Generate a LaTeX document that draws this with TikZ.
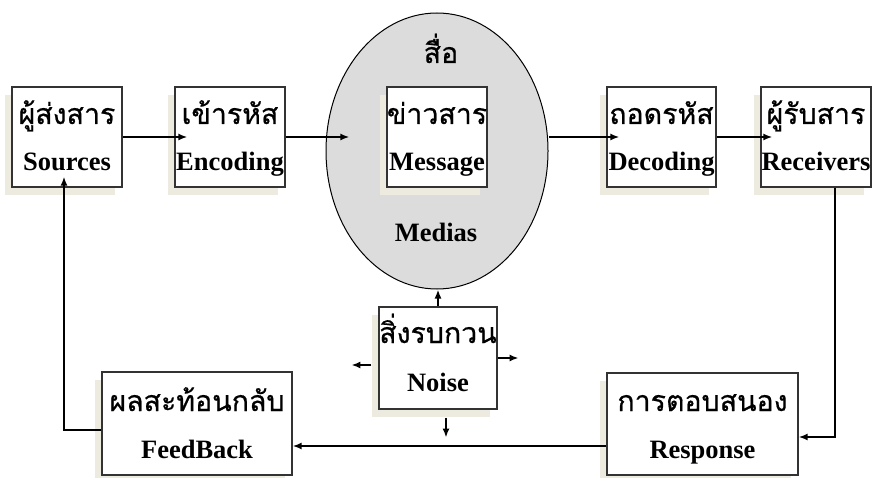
\documentclass[tikz,border=0pt]{standalone}
\usepackage{fontspec}
\setmainfont{Liberation Serif}
\newfontfamily\thaifont[Script=Thai,FakeBold=0.6]{Loma}
\usetikzlibrary{shadows,arrows.meta,shapes.geometric}

\definecolor{shadowc}{HTML}{EDEADF}
\definecolor{mediagray}{HTML}{DCDCDC}
\definecolor{boxline}{HTML}{333333}

\begin{document}
\begin{tikzpicture}[x=1pt,y=-1pt,
  box/.style={draw=boxline, line width=1.2pt, fill=white, rectangle, inner sep=0pt,
    general shadow={fill=shadowc, shadow xshift=-7pt, shadow yshift=-8pt}},
  th/.style={font=\thaifont\fontsize{28.5}{28.5}\selectfont, anchor=base, inner sep=0pt},
  en/.style={font=\fontsize{26.5}{26.5}\selectfont\bfseries, anchor=base, inner sep=0pt},
  arr/.style={line width=2.4pt, -{Latex[length=9pt,width=7pt]}},
]
\fill[white] (0,0) rectangle (874,478);
\path[use as bounding box] (0,0) rectangle (874,478);

% media ellipse
\node[ellipse, draw=black, line width=1pt, fill=mediagray, minimum width=222pt, minimum height=276pt, inner sep=0pt] (med) at (437,151) {};

% boxes
\node[box, minimum width=110pt, minimum height=100pt] (src) at (67,137) {};
\node[box, minimum width=110pt, minimum height=100pt] (enc) at (230,137) {};
\node[box, minimum width=100pt, minimum height=100pt] (msg) at (437,137) {};
\node[box, minimum width=109pt, minimum height=100pt] (dec) at (661.5,137) {};
\node[box, minimum width=110pt, minimum height=100pt] (rec) at (816,137) {};
\node[box, minimum width=118pt, minimum height=102pt] (noise) at (438,358) {};
\node[box, minimum width=190pt, minimum height=103pt] (fb) at (197,423.5) {};
\node[box, minimum width=191pt, minimum height=102pt] (resp) at (702.5,424) {};

% texts
\node[th] (srcT) at (67,124) {ผู้ส่งสาร};
\node[en] (srcE) at (67,171) {Sources};
\node[th] (encT) at (230,124) {เข้ารหัส};
\node[en] (encE) at (230,171) {Encoding};
\node[th] (msgT) at (437,124) {ข่าวสาร};
\node[en] (msgE) at (437,171) {Message};
\node[th] (decT) at (661.5,124) {ถอดรหัส};
\node[en] (decE) at (661.5,171) {Decoding};
\node[th] (recT) at (816,124) {ผู้รับสาร};
\node[en] (recE) at (816,171) {Receivers};
\node[th] (medT) at (441,63) {สื่อ};
\node[en] (medE) at (436,241) {Medias};
\node[th] (noiseT) at (438,343) {สิ่งรบกวน};
\node[en] (noiseE) at (438,391) {Noise};
\node[th] (fbT) at (197,411) {ผลสะท้อนกลับ};
\node[en] (fbE) at (197,458) {FeedBack};
\node[th] (respT) at (702.5,411) {การตอบสนอง};
\node[en] (respE) at (702.5,458) {Response};

% connectors
\draw[arr] (src.east) -- ([xshift=13pt]enc.west);
\draw[arr] (enc.east) -- ([xshift=-37pt]msg.west);
\draw[arr] (msg.east -| med.east) -- ([xshift=13pt]dec.west);
\draw[arr] (dec.east) -- ([xshift=12pt]rec.west);
\draw[arr] ([xshift=19pt]rec.south) |- ([yshift=-13pt]resp.east);
\coordinate (rl) at ([yshift=-22pt]resp.west);
\draw[arr] (rl) -- (rl -| fb.east);
\draw[arr] ([yshift=-6.5pt]fb.west) -| ([xshift=-3pt,yshift=11pt]src.south);

% noise arrows
\draw[arr] (noise.north) -- (noise.north |- med.south);
\coordinate (nL1) at ([xshift=-7pt,yshift=-7pt]noise.west);
\coordinate (nL2) at ([xshift=-27pt,yshift=-7pt]noise.west);
\draw[arr] (nL1) -- (nL2);
\coordinate (nR) at ([xshift=21pt]noise.east);
\draw[arr] (noise.east) -- (nR);
\coordinate (nD1) at ([xshift=8pt,yshift=-8pt]noise.south);
\coordinate (nD2) at ([xshift=8pt,yshift=-28pt]noise.south);
\draw[arr] (nD1) -- (nD2);
\end{tikzpicture}
\end{document}
